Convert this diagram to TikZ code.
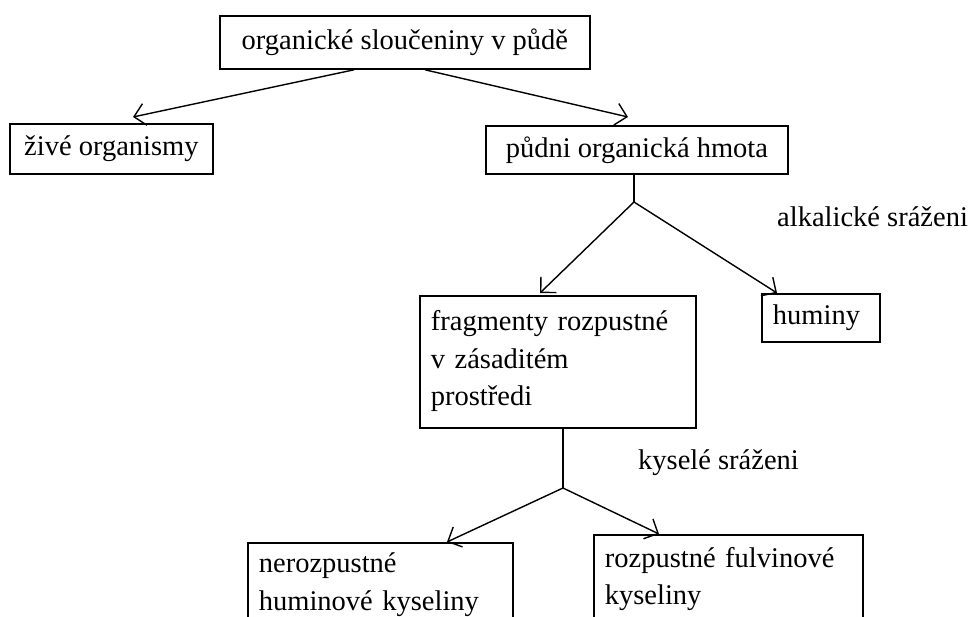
\documentclass[tikz,border=0pt]{standalone}
\usepackage{fontspec}
\setmainfont{Liberation Serif}
\usetikzlibrary{arrows.meta}
\begin{document}
\begin{tikzpicture}[x=1pt,y=-1pt,
  txt/.style={font=\fontsize{28.5}{37.5}\selectfont},
  box/.style={txt, draw, line width=1.8pt, anchor=north west, inner sep=0pt},
  mbox/.style={box, align=left, inner xsep=11pt},
  lbl/.style={txt, anchor=base west, inner sep=0pt},
  conn/.style={line width=1.4pt},
  arr/.style={conn, -{Straight Barb[length=11pt,width=22pt,line width=1.4pt]}}]
\useasboundingbox (0,0) rectangle (975,617);
\clip (0,0) rectangle (975,617);
\node[box, minimum width=370pt, minimum height=53pt] (top) at (219,15) {organické sloučeniny v půdě};
\node[box, minimum width=203pt, minimum height=50pt] (ziv) at (9,123) {živé organismy};
\node[box, minimum width=302pt, minimum height=48pt] (pom) at (485,125) {půdni organická hmota};
\node[mbox, text width=254pt, minimum height=132pt] (frag) at (419,295) {fragmenty rozpustné\\ v zásaditém\\ prostředi\\[-30pt]\mbox{}};
\node[mbox, text width=96pt, minimum height=48pt] (hum) at (761,293) {huminy};
\node[mbox, text width=243pt, minimum height=84pt] (ner) at (247,542) {nerozpustné\\ huminové kyseliny};
\node[mbox, text width=247pt, minimum height=88pt] (roz) at (593,534) {rozpustné fulvinové\\ kyseliny};
\node[lbl] (alk) at (777,227) {alkalické sráženi};
\node[lbl] (kys) at (638,470) {kyselé sráženi};
\draw[arr] ([xshift=135pt]top.south west) -- ([xshift=124pt,yshift=6pt]ziv.north west);
\draw[arr] ([xshift=206pt]top.south west) -- ([xshift=143pt,yshift=8pt]pom.north west);
\coordinate (j1) at (634,202);
\draw[conn] (pom.south -| j1) -- (j1);
\draw[arr] (j1) -- ([xshift=121pt,yshift=2pt]frag.north west);
\draw[arr] (j1) -- ([xshift=16pt]hum.north west);
\coordinate (j2) at (563,488);
\draw[conn] (frag.south -| j2) -- (j2);
\draw[arr] (j2) -- ([xshift=200pt]ner.north west);
\draw[arr] (j2) -- ([xshift=66pt]roz.north west);
\end{tikzpicture}
\end{document}
